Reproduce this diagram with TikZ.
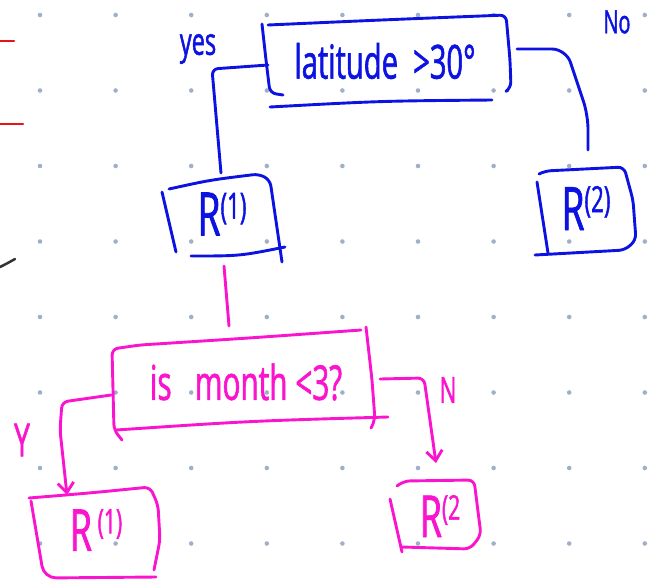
\documentclass[tikz,border=0pt]{standalone}
\usepackage{fontspec}
\newfontfamily\hand[FakeStretch=0.62,FakeBold=1.2]{Open Sans}
\usetikzlibrary{arrows.meta}
\definecolor{pen}{RGB}{12,18,226}
\definecolor{pinkpen}{RGB}{250,20,205}
\definecolor{dotc}{RGB}{160,176,202}
\definecolor{redpen}{RGB}{235,20,20}
\begin{document}
\begin{tikzpicture}[x=1pt,y=-1pt, line cap=round, line join=round,
 stroke/.style={line width=2.9pt, rounded corners=6pt},
 bluestroke/.style={stroke, draw=pen},
 pinkstroke/.style={stroke, draw=pinkpen},
 lbl/.style={inner sep=0pt, font=\hand},
 bluelbl/.style={lbl, text=pen},
 pinklbl/.style={lbl, text=pinkpen},
 tip/.style={-{Straight Barb[length=10pt,width=16pt,line width=2.9pt]}}
]
\useasboundingbox (0,0) rectangle (652,584);
% dot grid
\foreach \i in {0,...,8} \foreach \j in {0,...,7}
  \fill[dotc] ({40+75.6*\i},{15+75.5*\j}) circle (2.3pt);
% margin marks
\draw[redpen, line width=2.5pt] (0,41) -- (14,41);
\draw[redpen, line width=2.5pt] (0,124) -- (23,124);
\draw[black!80, line width=2.5pt] (0,267) .. controls (6,264) .. (15,259);

% ---------- blue tree ----------
\node[bluelbl, font=\hand\fontsize{47}{47}\selectfont] (lat) at (385,61) {latitude \ >30°};
\node[bluelbl, font=\hand\fontsize{38}{38}\selectfont] (yes) at (198,49) {yes};
\node[bluelbl, font=\hand\fontsize{32}{32}\selectfont] (no) at (617,22) {No};
\node[bluelbl, font=\hand\fontsize{60}{60}\selectfont] (r1) at (222,214) {R\raisebox{0.28em}{\fontsize{36}{36}\selectfont(1)}};
\node[bluelbl, font=\hand\fontsize{60}{60}\selectfont] (r2) at (586,208) {R\raisebox{0.3em}{\fontsize{36}{36}\selectfont(2)}};

% latitude box
\draw[bluestroke] (262,24) -- (266,60) -- (270,93) -- (283,95);
\draw[bluestroke] (268,25) .. controls (380,20) .. (506,15) -- (510,60) -- (511,88) -- (508,90);
\draw[bluestroke] (270,107) .. controls (380,101) .. (492,100);
% R1 box
\draw[bluestroke] (169,189) .. controls (210,180) .. (259,174) -- (270,180) -- (282,262);
\draw[bluestroke] (162,192) -- (176,252);
\draw[bluestroke] (191,256) .. controls (240,256) .. (285,247);
% R2 box
\draw[bluestroke] (539,174) -- (545,171) -- (624,167) -- (633,200) -- (636,240) -- (625,250) -- (535,255);
\draw[bluestroke] (537,182) -- (548,253);

% blue connectors
\coordinate (latW) at (268,65);
\coordinate (r1N) at (221,173);
\coordinate (latE) at (517,49);
\coordinate (r2N) at (588,150);
\draw[bluestroke] (latW) -- (212,69) -- (r1N);
\draw[bluestroke, rounded corners=14pt] (latE) -- (566,49) -- (588,115) -- (r2N);

% ---------- pink subtree ----------
\node[pinklbl, font=\hand\fontsize{48}{48}\selectfont] (month) at (246,382) {is \ \ month <3?};
\node[pinklbl, font=\hand\fontsize{46}{46}\selectfont] (Y) at (22,440) {Y};
\node[pinklbl, font=\hand\fontsize{36}{36}\selectfont] (N) at (448,390) {N};
\node[pinklbl, font=\hand\fontsize{58}{58}\selectfont] (p1) at (96,530) {R\raisebox{0.3em}{\fontsize{34}{34}\selectfont\,(1)}};
\node[pinklbl, font=\hand\fontsize{58}{58}\selectfont] (p2) at (440,516) {R\raisebox{0.3em}{\fontsize{34}{34}\selectfont(2}};

% month box
\draw[pinkstroke] (122,440) -- (114,430) -- (112,349) -- (140,345) .. controls (250,338) .. (361,330);
\draw[pinkstroke] (366,327) -- (372,380) -- (375,420) -- (371,428);
\draw[pinkstroke] (116,430) .. controls (250,421) .. (388,417);
% p1 box
\draw[pinkstroke] (29,498) .. controls (90,493) .. (150,487) -- (158,505) -- (160,540) -- (154,570);
\draw[pinkstroke, rounded corners=12pt] (31,501) -- (44,578) -- (156,577);
% p2 box
\draw[pinkstroke] (397,486) -- (404,481) -- (474,480) -- (481,535) -- (470,549) -- (402,547);
\draw[pinkstroke] (390,499) -- (402,552);

% pink connectors
\coordinate (r1S) at (224,266);
\coordinate (monthN) at (229,326);
\coordinate (monthW) at (111,395);
\coordinate (p1N) at (67,495);
\coordinate (monthE) at (380,379);
\coordinate (p2N) at (436,463);
\draw[pinkstroke] (r1S) -- (monthN);
\draw[pinkstroke, tip] (monthW) -- (62,402) -- (60,430) -- (p1N);
\draw[pinkstroke, tip] (monthE) -- (424,378) -- (p2N);
\end{tikzpicture}
\end{document}
